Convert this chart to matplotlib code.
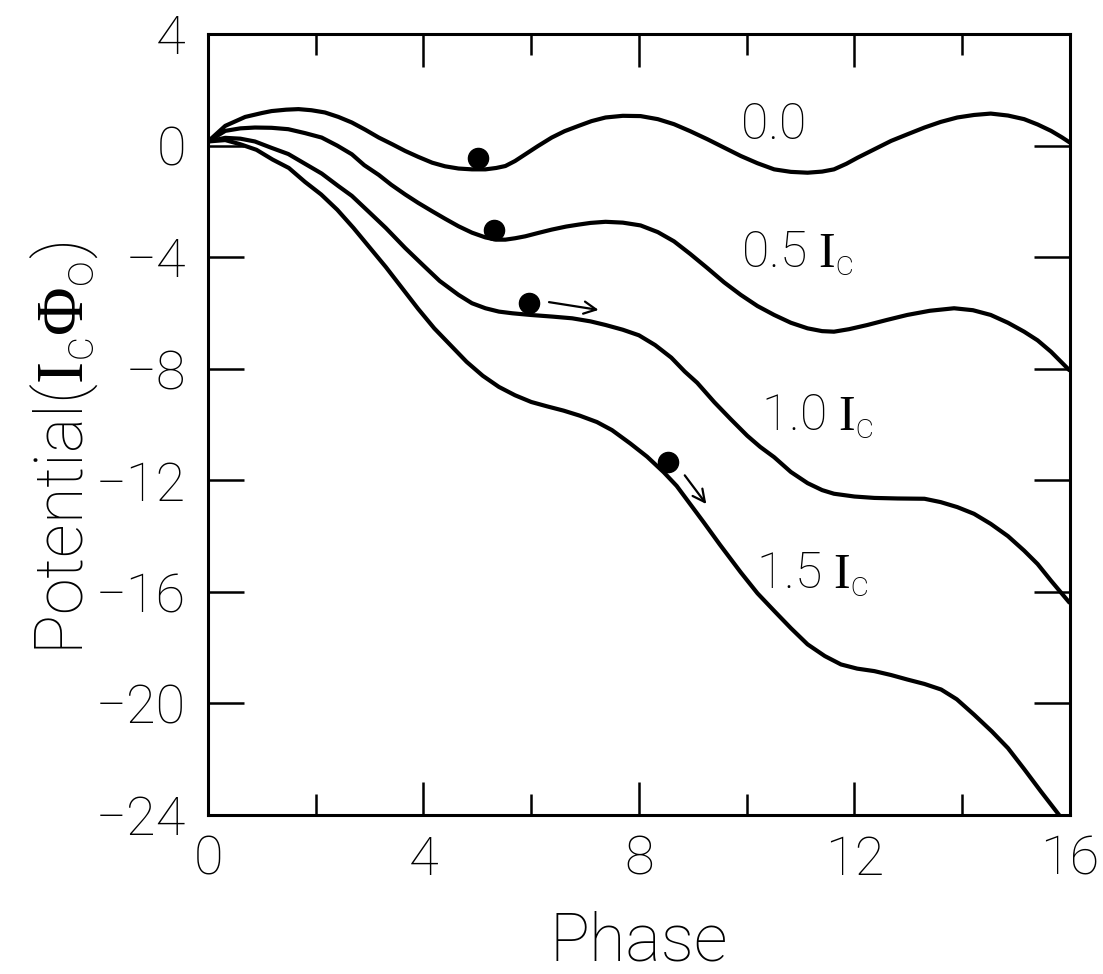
import matplotlib
matplotlib.use("Agg")
import matplotlib.pyplot as plt
from matplotlib.ticker import MultipleLocator

plt.rcParams['font.family'] = ['Roboto', 'DejaVu Sans']
plt.rcParams['font.weight'] = 'light'
plt.rcParams['axes.labelweight'] = 'light'
plt.rcParams['mathtext.fontset'] = 'custom'
plt.rcParams['mathtext.rm'] = 'Liberation Serif'
plt.rcParams['mathtext.sf'] = 'Roboto:light'
plt.rcParams['axes.unicode_minus'] = True

# Tilted washboard potential for several bias currents (phase vs potential)
phase_00 = [0, 0.32, 0.69, 1.0, 1.18, 1.45, 1.68, 1.92, 2.17, 2.42, 2.67, 2.92, 3.17,
            3.42, 3.66, 3.9, 4.16, 4.4, 4.65, 4.9, 5.15, 5.35, 5.52, 5.7, 5.89, 6.12,
            6.38, 6.62, 6.88, 7.12, 7.38, 7.7, 8.03, 8.35, 8.65, 8.95, 9.27, 9.58,
            9.89, 10.2, 10.51, 10.82, 11.13, 11.4, 11.62, 11.85, 12.06, 12.37, 12.68,
            13.0, 13.3, 13.6, 13.91, 14.22, 14.53, 14.85, 15.15, 15.4, 15.65, 15.85, 16.0]
pot_00 = [0.15, 0.71, 1.03, 1.17, 1.24, 1.29, 1.31, 1.27, 1.19, 1.03, 0.83, 0.57, 0.29,
          0.05, -0.19, -0.4, -0.61, -0.74, -0.82, -0.85, -0.85, -0.8, -0.73, -0.55,
          -0.31, -0.02, 0.29, 0.52, 0.71, 0.88, 1.01, 1.07, 1.06, 0.95, 0.77, 0.52,
          0.23, -0.07, -0.37, -0.63, -0.85, -0.94, -0.97, -0.93, -0.85, -0.65, -0.43,
          -0.13, 0.17, 0.42, 0.65, 0.85, 1.01, 1.1, 1.15, 1.08, 0.95, 0.76, 0.53, 0.3, 0.11]

phase_05 = [0, 0.32, 0.6, 0.87, 1.18, 1.49, 1.8, 2.11, 2.4, 2.67, 2.9, 3.17, 3.4, 3.66,
            3.9, 4.16, 4.4, 4.65, 4.9, 5.15, 5.35, 5.52, 5.7, 5.89, 6.15, 6.38, 6.65,
            6.88, 7.1, 7.38, 7.7, 8.03, 8.35, 8.65, 8.95, 9.27, 9.58, 9.89, 10.2, 10.51,
            10.82, 11.13, 11.4, 11.62, 11.9, 12.24, 12.6, 12.98, 13.4, 13.85, 14.2,
            14.53, 14.85, 15.15, 15.4, 15.65, 15.99]
pot_05 = [0.15, 0.53, 0.62, 0.65, 0.64, 0.59, 0.45, 0.29, 0.0, -0.31, -0.7, -1.05, -1.4,
          -1.75, -2.05, -2.35, -2.62, -2.89, -3.12, -3.29, -3.37, -3.37, -3.32, -3.25,
          -3.12, -3.01, -2.9, -2.83, -2.77, -2.73, -2.76, -2.86, -3.1, -3.43, -3.88,
          -4.39, -4.9, -5.35, -5.75, -6.07, -6.35, -6.55, -6.65, -6.67, -6.58, -6.43,
          -6.25, -6.07, -5.92, -5.83, -5.9, -6.07, -6.35, -6.67, -6.98, -7.39, -8.05]

phase_10 = [0, 0.32, 0.6, 0.87, 1.18, 1.49, 1.8, 2.11, 2.42, 2.67, 3.0, 3.3, 3.66, 4.0,
            4.3, 4.65, 4.9, 5.15, 5.4, 5.65, 5.99, 6.4, 6.76, 7.1, 7.38, 7.7, 8.0, 8.3,
            8.6, 8.85, 9.08, 9.4, 9.7, 10.01, 10.25, 10.51, 10.82, 11.13, 11.4, 11.62,
            12.0, 12.37, 12.8, 13.3, 13.6, 13.91, 14.22, 14.53, 14.85, 15.15, 15.4,
            15.65, 15.99]
pot_10 = [0.15, 0.28, 0.25, 0.15, -0.08, -0.3, -0.65, -1.0, -1.45, -1.8, -2.4, -2.95,
          -3.67, -4.3, -4.85, -5.35, -5.65, -5.83, -5.95, -6.01, -6.07, -6.13, -6.19,
          -6.3, -6.43, -6.6, -6.8, -7.15, -7.6, -8.1, -8.5, -9.2, -9.8, -10.4, -10.8,
          -11.17, -11.7, -12.1, -12.35, -12.48, -12.58, -12.63, -12.65, -12.66, -12.78,
          -12.96, -13.2, -13.56, -14.0, -14.52, -15.0, -15.6, -16.38]

phase_15 = [0, 0.32, 0.6, 0.9, 1.2, 1.5, 1.8, 2.1, 2.4, 2.7, 3.0, 3.3, 3.6, 3.9, 4.2,
            4.5, 4.8, 5.1, 5.4, 5.7, 6.0, 6.3, 6.6, 6.9, 7.22, 7.5, 7.84, 8.15, 8.46,
            8.7, 8.9, 9.2, 9.5, 9.89, 10.2, 10.51, 10.82, 11.13, 11.45, 11.75, 12.05,
            12.37, 12.68, 12.98, 13.3, 13.61, 13.9, 14.22, 14.55, 14.85, 15.15, 15.46, 15.8]
pot_15 = [0.15, 0.2, 0.05, -0.15, -0.5, -0.8, -1.3, -1.75, -2.3, -2.95, -3.65, -4.35,
          -5.1, -5.85, -6.55, -7.15, -7.75, -8.25, -8.65, -8.95, -9.19, -9.35, -9.5,
          -9.68, -9.91, -10.2, -10.68, -11.15, -11.71, -12.2, -12.72, -13.5, -14.3,
          -15.3, -16.05, -16.68, -17.3, -17.88, -18.3, -18.6, -18.75, -18.84, -18.98,
          -19.14, -19.3, -19.5, -19.85, -20.4, -21.0, -21.6, -22.35, -23.15, -24.0]

curve_labels = ["0.0", "0.5", "1.0", "1.5"]
label_pos = [(9.89, 0.23), (9.89, -4.39), (10.26, -10.24), (10.17, -15.9)]

# particle positions on each curve and drift arrows
ball_phase = [5.01, 5.31, 5.95, 8.54]
ball_pot = [-0.43, -3.01, -5.65, -11.35]
arrow_start = [(6.33, -5.61), (8.85, -11.82)]
arrow_end = [(7.25, -5.89), (9.25, -12.85)]

fig = plt.figure(figsize=(11.03, 9.74), dpi=100)
ax = fig.add_axes([0.1886, 0.1632, 0.7814, 0.8018])

for xs, ys in [(phase_00, pot_00), (phase_05, pot_05), (phase_10, pot_10), (phase_15, pot_15)]:
    ax.plot(xs, ys, color='black', lw=3.0, solid_capstyle='round', solid_joinstyle='round')

ax.plot(ball_phase, ball_pot, 'o', color='black', ms=14.5, ls='none')

for s, e in zip(arrow_start, arrow_end):
    ax.annotate("", xy=e, xytext=s,
                arrowprops=dict(arrowstyle='->', color='black', lw=1.6,
                                mutation_scale=22, shrinkA=0, shrinkB=0))

for lab, (lx, ly) in zip(curve_labels, label_pos):
    txt = lab if lab == "0.0" else lab + r" $\mathrm{I}_{\mathsf{c}}$"
    ax.text(lx, ly, txt, fontsize=36, ha='left', va='baseline')

ax.set_xlim(0, 16)
ax.set_ylim(-24, 4)
ax.xaxis.set_major_locator(MultipleLocator(4))
ax.xaxis.set_minor_locator(MultipleLocator(2))
ax.yaxis.set_major_locator(MultipleLocator(4))

ax.tick_params(which='both', direction='in', top=True, right=True, width=1.8)
ax.tick_params(which='major', axis='x', length=24, labelsize=39, pad=14)
ax.tick_params(which='minor', axis='x', length=15)
ax.tick_params(which='major', axis='y', length=26, labelsize=39, pad=16)

for sp in ax.spines.values():
    sp.set_linewidth(2.2)

ax.set_xlabel("Phase", fontsize=48, labelpad=18)
ax.set_ylabel(r"Potential($\mathrm{I}_{\mathsf{c}}\Phi_{\mathsf{o}}$)", fontsize=48)
ax.yaxis.set_label_coords(-0.125, 0.47)

fig.savefig("out.png", dpi=100)
